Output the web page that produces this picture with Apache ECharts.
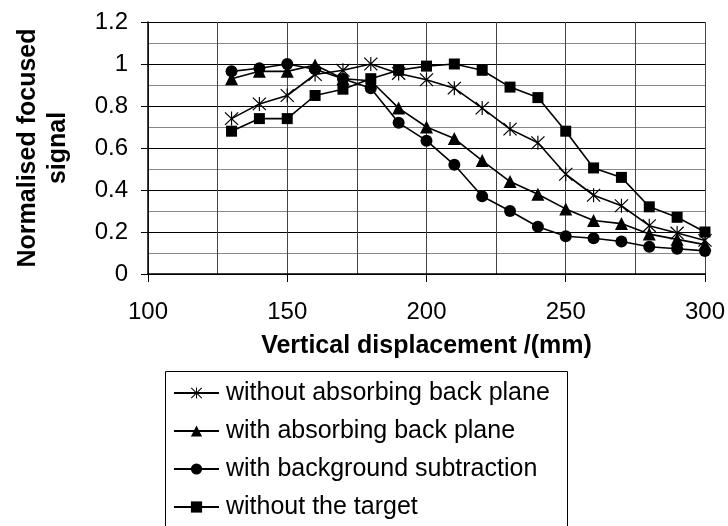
<!DOCTYPE html>
<html>
<head>
<meta charset="utf-8">
<script src="https://cdn.jsdelivr.net/npm/echarts@6/dist/echarts.min.js"></script>
<style>
html, body { margin: 0; padding: 0; background: #fff; }
#chart { width: 728px; height: 526px; }
</style>
</head>
<body>
<div id="chart"></div>
<script>
// displacement (mm)
var displacement = [130, 140, 150, 160, 170, 180, 190, 200, 210, 220, 230, 240, 250, 260, 270, 280, 290, 300];

var withoutAbsorbing = [0.74, 0.81, 0.85, 0.95, 0.97, 1.0, 0.955, 0.925, 0.885, 0.79, 0.69, 0.625, 0.475, 0.375, 0.325, 0.23, 0.195, 0.16];
var withAbsorbing = [0.93, 0.965, 0.965, 0.995, 0.93, 0.92, 0.79, 0.70, 0.645, 0.54, 0.44, 0.38, 0.31, 0.255, 0.24, 0.19, 0.165, 0.14];
var bgSubtraction = [0.965, 0.98, 1.0, 0.975, 0.93, 0.885, 0.72, 0.635, 0.52, 0.37, 0.30, 0.225, 0.18, 0.17, 0.155, 0.13, 0.12, 0.11];
var withoutTarget = [0.68, 0.74, 0.74, 0.85, 0.88, 0.93, 0.97, 0.99, 1.0, 0.97, 0.89, 0.84, 0.68, 0.505, 0.46, 0.32, 0.27, 0.2];

var seriesNames = ['without absorbing back plane', 'with absorbing back plane', 'with background subtraction', 'without the target'];

// asterisk marker (X + vertical bar)
var asterisk = 'path://M-0.8,-10L0.8,-10L0.8,10L-0.8,10ZM-8.4,-9.6L9.6,8.4L8.4,9.6L-9.6,-8.4ZM-9.6,8.4L8.4,-9.6L9.6,-8.4L-8.4,9.6Z';

function pairs(ys) {
    return displacement.map(function (x, i) { return [x, ys[i]]; });
}

function lineSeries(name, ys, symbol, size) {
    return {
        name: name,
        type: 'line',
        data: pairs(ys),
        symbol: symbol,
        symbolSize: size,
        showAllSymbol: true,
        lineStyle: { color: '#000', width: 1.6 },
        itemStyle: { color: '#000' },
        animation: false
    };
}

var font = '"Liberation Sans", Arial, sans-serif';

var chart = echarts.init(document.getElementById('chart'));
var option = {
    backgroundColor: '#fff',
    animation: false,
    grid: { left: 148, right: 23, top: 22, bottom: 252 },
    xAxis: {
        type: 'value',
        min: 100,
        max: 300,
        interval: 50,
        name: 'Vertical displacement /(mm)',
        nameLocation: 'middle',
        nameGap: 60,
        nameTextStyle: { fontFamily: font, fontWeight: 'bold', fontSize: 25, color: '#000' },
        axisLine: { lineStyle: { color: '#000', width: 1.5 } },
        axisTick: { show: true, length: 8, lineStyle: { color: '#000' } },
        axisLabel: { margin: 26, fontFamily: font, fontSize: 24, color: '#000' },
        splitLine: { show: true, lineStyle: { color: '#444', width: 1 } },
        minorTick: { show: false, splitNumber: 2 },
        minorSplitLine: { show: true, lineStyle: { color: '#444', width: 1 } }
    },
    yAxis: {
        type: 'value',
        min: 0,
        max: 1.2,
        interval: 0.2,
        name: 'Normalised focused\nsignal',
        nameLocation: 'middle',
        nameRotate: 90,
        nameGap: 75,
        nameTextStyle: { fontFamily: font, fontWeight: 'bold', fontSize: 25, color: '#000', lineHeight: 30 },
        axisLine: { show: true, lineStyle: { color: '#000', width: 1.5 } },
        axisTick: { show: true, length: 7, lineStyle: { color: '#000' } },
        axisLabel: { margin: 20, fontFamily: font, fontSize: 24, color: '#000' },
        splitLine: { show: true, lineStyle: { color: '#000', width: 1 } },
        minorTick: { show: false, splitNumber: 2 },
        minorSplitLine: { show: true, lineStyle: { color: '#888', width: 1 } }
    },
    legend: {
        orient: 'vertical',
        left: 173,
        top: 380,
        padding: 0,
        itemWidth: 45,
        itemHeight: 14,
        itemGap: 12,
        data: seriesNames,
        textStyle: { fontFamily: font, fontSize: 25, color: '#000', lineHeight: 26, padding: [0, 0, 0, 2] }
    },
    graphic: [{
        type: 'rect',
        left: 163,
        top: 369,
        shape: { width: 402, height: 200 },
        style: { fill: 'none', stroke: '#000', lineWidth: 1 },
        silent: true
    }],
    series: [
        lineSeries(seriesNames[0], withoutAbsorbing, asterisk, 14),
        lineSeries(seriesNames[1], withAbsorbing, 'triangle', 13),
        lineSeries(seriesNames[2], bgSubtraction, 'circle', 12),
        lineSeries(seriesNames[3], withoutTarget, 'rect', 11)
    ]
};
chart.setOption(option);
</script>
</body>
</html>
